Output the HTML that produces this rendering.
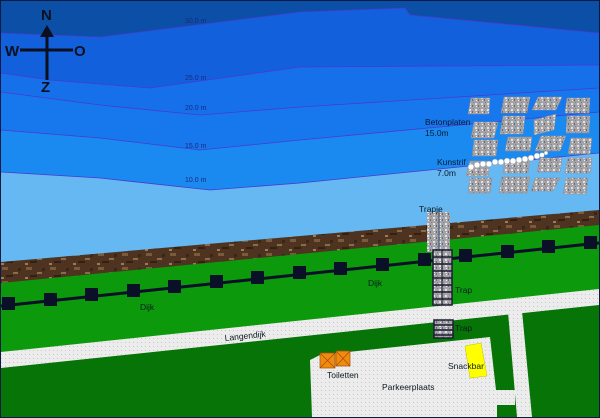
<!DOCTYPE html>
<html><head><meta charset="utf-8"><style>
html,body{margin:0;padding:0;background:#0a1a40}
svg{display:block}
text{font-family:"Liberation Sans",sans-serif}
</style></head><body>
<svg width="600" height="418" viewBox="0 0 600 418" xmlns="http://www.w3.org/2000/svg">
<defs>
<pattern id="st" width="6" height="6" patternUnits="userSpaceOnUse"><rect width="6" height="6" fill="#a4a4a8"/><rect x="1" y="1" width="2" height="2" fill="#e0e0e0"/><rect x="4" y="3" width="1" height="2" fill="#6a6a70"/><rect x="2" y="4" width="1" height="1" fill="#f0f0f0"/><rect x="5" y="0" width="1" height="1" fill="#808088"/></pattern>
<pattern id="br" width="24" height="14" patternUnits="userSpaceOnUse"><rect width="24" height="14" fill="#4e3420"/><rect x="2" y="1" width="6" height="3" fill="#7a5a38"/><rect x="13" y="6" width="5" height="2" fill="#8a6c48"/><rect x="6" y="9" width="7" height="2" fill="#332010"/><rect x="18" y="2" width="3" height="3" fill="#3a2614"/><rect x="1" y="11" width="3" height="2" fill="#9a7c58"/></pattern>
<pattern id="wh" width="4" height="4" patternUnits="userSpaceOnUse"><rect width="4" height="4" fill="#ececec"/><rect x="1" y="2" width="1" height="1" fill="#c8c8c8"/></pattern>
</defs>
<rect width="600" height="418" fill="#0a1a40"/>
<g>
<rect x="1" y="1" width="598" height="416" fill="#66b8f2"/>
<polygon points="1,1 599,1 599,153 300,183 210,190 100,178 1,172" fill="#1a8af0"/>
<polygon points="1,1 599,1 599,112 300,140 200,150 100,138 1,130" fill="#1678ec"/>
<polygon points="1,1 599,1 599,88 300,107 200,115 100,105 1,92" fill="#1670ea"/>
<polygon points="1,1 599,1 599,65 300,67 150,88 50,80 1,73" fill="#1260dc"/>
<polygon points="1,1 599,1 599,33 410,15 405,8 300,12 100,37 1,33" fill="#0c4fa6"/>
<g fill="none" stroke="#4a3ad0" stroke-width="0.8">
<polyline points="1,172 100,178 210,190 300,183 599,153"/>
<polyline points="1,130 100,138 200,150 300,140 599,112"/>
<polyline points="1,92 100,105 200,115 300,107 599,88"/>
<polyline points="1,73 50,80 150,88 300,67 599,65"/>
<polyline points="1,33 100,37 300,12 405,8 410,15 599,33"/>
</g>
</g>
<g font-size="7" fill="#1a2a80">
<text x="185" y="23">30.0 m</text><text x="185" y="80">25.0 m</text><text x="185" y="110">20.0 m</text><text x="185" y="148">15.0 m</text><text x="185" y="182">10.0 m</text>
</g>
<!-- compass -->
<g stroke="#0a1020" stroke-width="3"><line x1="47" y1="36" x2="47" y2="80"/><line x1="20" y1="50" x2="73" y2="50"/></g>
<polygon points="47,25 40,37 54,37" fill="#0a1020"/>
<g font-size="15" font-weight="bold" fill="#0a1020"><text x="41" y="20">N</text><text x="5" y="56">W</text><text x="74" y="56">O</text><text x="41" y="92">Z</text></g>
<!-- tiles -->
<g fill="url(#st)" stroke="#9090a0" stroke-width="0.5">
<polygon points="471,98 490,98 489,114 468,114"/><polygon points="504,97 530,97 527,113 501,113"/><polygon points="538,97 562,97 556,110 532,110"/><polygon points="567,98 590,98 589,113 565,113"/>
<polygon points="474,122 498,122 494,138 471,138"/><polygon points="503,116 525,116 523,134 500,134"/><polygon points="534,120 556,114 554,130 534,135"/><polygon points="567,116 590,116 589,133 566,133"/>
<polygon points="474,140 498,140 496,156 472,156"/><polygon points="508,137 532,137 530,151 505,151"/><polygon points="541,136 566,136 560,151 535,151"/><polygon points="571,138 592,138 590,154 568,154"/>
<polygon points="470,161 490,161 488,176 466,176"/><polygon points="505,160 530,160 528,173 503,173"/><polygon points="540,158 562,158 560,172 537,172"/><polygon points="568,158 592,158 590,173 565,173"/>
<polygon points="470,178 492,178 490,193 468,193"/><polygon points="502,177 530,177 527,193 499,193"/><polygon points="535,178 560,178 553,191 531,191"/><polygon points="566,178 588,178 586,194 563,194"/>
</g>
<g fill="#fff" stroke="#8090a0" stroke-width="0.5">
<circle cx="471" cy="167" r="3"/><circle cx="477" cy="165" r="3"/><circle cx="483" cy="164" r="3"/><circle cx="489" cy="164" r="3"/><circle cx="495" cy="162" r="3"/><circle cx="501" cy="162" r="3"/><circle cx="507" cy="161" r="3"/><circle cx="513" cy="161" r="3"/><circle cx="519" cy="160" r="3"/><circle cx="525" cy="159" r="3"/><circle cx="531" cy="158" r="3"/><circle cx="537" cy="156" r="3"/><circle cx="542" cy="155" r="2.5"/><circle cx="546" cy="153" r="2"/>
</g>
<g font-size="8.5" fill="#0a1a30"><text x="425" y="125">Betonplaten</text><text x="425" y="136">15.0m</text><text x="437" y="165">Kunstrif</text><text x="437" y="176">7.0m</text></g>
<!-- land -->
<polygon points="1,262 599,210 599,417 1,417" fill="url(#br)"/>
<polygon points="1,283 599,225 599,417 1,417" fill="#0c9a0c"/>
<polygon points="1,367 599,305 599,417 1,417" fill="#067406"/>
<!-- road -->
<polygon points="1,352 599,289 599,305 1,368" fill="url(#wh)"/>
<polygon points="508,312 522,311 532,417 517,417" fill="url(#wh)"/>
<polygon points="310,360 320,355 490,337 496,390 515,390 515,405 497,405 497,417 312,417" fill="url(#wh)"/>
<!-- rail -->
<line x1="1" y1="306" x2="599" y2="243" stroke="#0a1028" stroke-width="3"/>
<g fill="#0a1028">
<rect x="2" y="297" width="13" height="13"/><rect x="44" y="293" width="13" height="13"/><rect x="85" y="288" width="13" height="13"/><rect x="127" y="284" width="13" height="13"/><rect x="168" y="280" width="13" height="13"/><rect x="210" y="275" width="13" height="13"/><rect x="251" y="271" width="13" height="13"/><rect x="293" y="266" width="13" height="13"/><rect x="334" y="262" width="13" height="13"/><rect x="376" y="258" width="13" height="13"/><rect x="418" y="253" width="13" height="13"/><rect x="459" y="249" width="13" height="13"/><rect x="501" y="245" width="13" height="13"/><rect x="542" y="240" width="13" height="13"/><rect x="584" y="236" width="13" height="13"/>
</g>
<!-- stairs -->
<rect x="427" y="212" width="23" height="40" fill="url(#st)"/>
<line x1="439" y1="210" x2="439" y2="252" stroke="#2a4a70" stroke-width="1"/>
<g stroke="#1a1a30" stroke-width="1.5" fill="url(#st)">
<rect x="433" y="250" width="19" height="55"/>
<line x1="433" y1="257" x2="452" y2="257"/><line x1="433" y1="264" x2="452" y2="264"/><line x1="433" y1="271" x2="452" y2="271"/><line x1="433" y1="278" x2="452" y2="278"/><line x1="433" y1="285" x2="452" y2="285"/><line x1="433" y1="292" x2="452" y2="292"/><line x1="433" y1="299" x2="452" y2="299"/>
<line x1="442" y1="250" x2="442" y2="305" stroke-width="1"/>
<rect x="434" y="320" width="19" height="18"/>
<line x1="434" y1="325" x2="453" y2="325"/><line x1="434" y1="330" x2="453" y2="330"/><line x1="434" y1="335" x2="453" y2="335"/>
</g>
<!-- buildings -->
<g stroke="#a05000" stroke-width="0.7" fill="#f08a10">
<rect x="320" y="353" width="15" height="15"/><line x1="320" y1="353" x2="335" y2="368"/><line x1="335" y1="353" x2="320" y2="368"/>
<rect x="336" y="351" width="14" height="15"/><line x1="336" y1="351" x2="350" y2="366"/><line x1="350" y1="351" x2="336" y2="366"/>
</g>
<polygon points="465,346 481,343 487,376 470,378" fill="#ffff00" stroke="#c0c000" stroke-width="0.5"/>
<g font-size="8.5" fill="#0a1a20">
<text x="140" y="310">Dijk</text><text x="368" y="286">Dijk</text>
<text x="455" y="293">Trap</text><text x="455" y="331">Trap</text>
<text x="419" y="212">Trapje</text>
<text x="225" y="341" transform="rotate(-6 225 341)">Langendijk</text>
<text x="327" y="378">Toiletten</text><text x="448" y="369">Snackbar</text><text x="382" y="390">Parkeerplaats</text>
</g>
</svg>
</body></html>
